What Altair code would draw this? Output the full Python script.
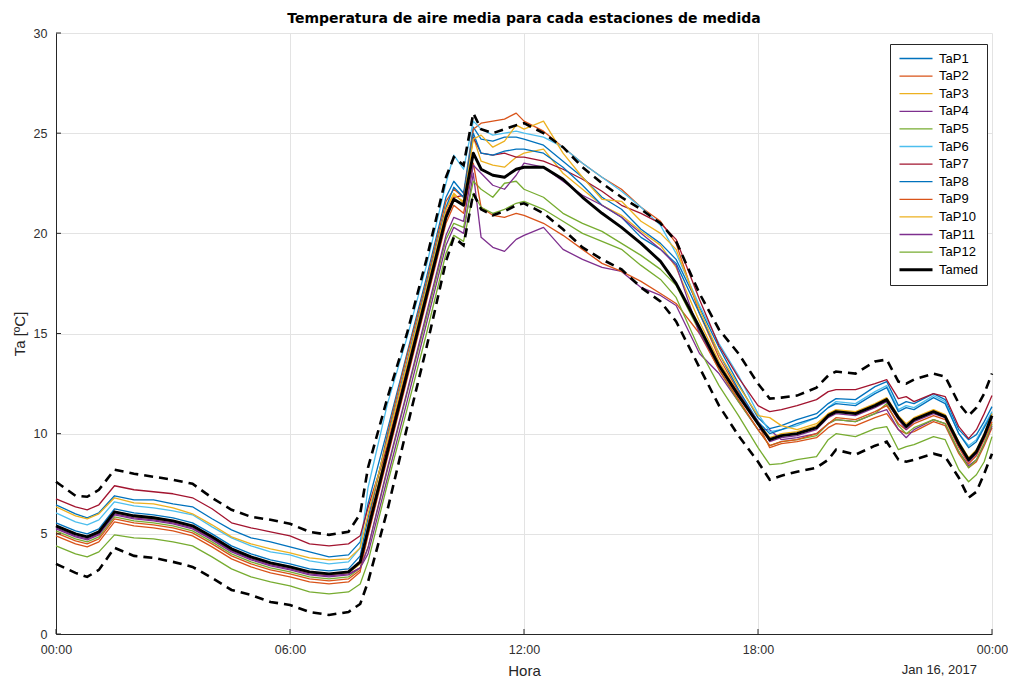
import altair as alt
import pandas as pd

FONT = "Liberation Sans"
TITLE_FONT = "DejaVu Sans"

TITLE = "Temperatura de aire media para cada estaciones de medida"
X_TITLE = "Hora"
Y_TITLE = "Ta [ºC]"
DATE_LABEL = "Jan 16, 2017"
X_TICKS = [0, 6, 12, 18, 24]
Y_TICKS = [0, 5, 10, 15, 20, 25, 30]

# hours since 00:00 (Jan 15, 2017)
T = [0, 0.5, 0.8, 1.1, 1.5, 2, 2.5, 3, 3.5, 4, 4.5, 5, 5.5, 6, 6.5, 7, 7.5, 7.8,
     8.0, 8.5, 9.0, 9.5, 10.0, 10.2, 10.45, 10.7,
     10.9, 11.2, 11.5, 11.8, 12.0, 12.5, 13.0, 13.5, 14.0, 14.5, 15.0, 15.5, 15.9,
     16.5, 17.0, 17.5, 18.0,
     18.3, 18.6, 19.0, 19.5, 19.8, 20.0, 20.5, 21.0, 21.3, 21.6, 21.8, 22.0, 22.5,
     22.8, 23.15, 23.4, 23.6, 23.8, 24.0]

TaP1 = [6.45, 6.0, 5.8, 6.05, 6.9, 6.7, 6.7, 6.5, 6.35, 5.75, 5.2, 4.8, 4.6, 4.35, 4.1, 3.85, 3.95, 4.6,
        6.5, 10.2, 14.0, 17.8, 21.8, 22.6, 22.0, 25.3,
        24.7, 24.6, 24.8, 24.8, 24.7, 24.4, 23.6, 22.8, 21.8, 21.2, 20.2, 19.5, 18.7,
        16.3, 14.3, 12.5, 10.8,
        10.25, 10.4, 10.7, 11.0, 11.5, 11.75, 11.7, 12.35, 12.6, 11.4, 11.6, 11.5, 12.0, 11.7, 10.2, 9.7, 9.95, 10.6, 11.35]
TaP2 = [4.9, 4.5, 4.35, 4.6, 5.6, 5.4, 5.3, 5.15, 4.9, 4.35, 3.75, 3.35, 3.05, 2.85, 2.6, 2.5, 2.6, 3.1,
        5.5, 10.0, 13.9, 17.6, 21.6, 22.2, 21.8, 25.2,
        25.5, 25.6, 25.7, 26.0, 25.6, 25.1, 24.3, 23.5, 22.8, 22.2, 21.3, 20.6, 19.5,
        16.0, 13.8, 12.1, 10.5,
        9.3, 9.5, 9.6, 9.8, 10.3, 10.5, 10.4, 10.8, 11.0, 10.2, 10.0, 10.1, 10.6, 10.4, 9.0, 8.3, 8.6, 9.4, 10.3]
TaP3 = [5.4, 5.0, 4.85, 5.05, 6.05, 5.85, 5.75, 5.6, 5.35, 4.8, 4.2, 3.8, 3.5, 3.3, 3.05, 2.95, 3.05, 3.5,
        5.3, 9.5, 13.4, 17.2, 21.2, 22.0, 21.5, 24.8,
        23.6, 23.4, 23.3, 23.8, 24.0, 24.2, 23.0, 22.2, 21.4, 20.9, 20.1, 19.4, 18.3,
        15.6, 13.6, 12.0, 10.6,
        9.8, 10.0, 10.1, 10.4, 11.0, 11.15, 11.05, 11.45, 11.75, 10.85, 10.4, 10.75, 11.15, 10.9, 9.5, 8.7, 9.1, 9.9, 10.9]
TaP4 = [5.3, 4.9, 4.75, 5.0, 6.0, 5.8, 5.7, 5.55, 5.3, 4.75, 4.15, 3.75, 3.45, 3.25, 3.0, 2.9, 3.0, 3.3,
        4.0, 7.8, 11.6, 15.5, 19.4, 20.3, 20.0, 23.0,
        19.8, 19.3, 19.1, 19.7, 19.9, 20.3, 19.2, 18.7, 18.3, 18.1, 17.3, 16.9, 16.4,
        14.0, 13.0, 11.6, 10.2,
        10.2, 9.7, 9.8, 10.0, 10.5, 10.7, 10.6, 11.0, 11.2, 10.2, 9.8, 10.2, 10.7, 10.5, 9.1, 8.4, 8.7, 9.5, 10.4]
TaP5 = [5.15, 4.75, 4.6, 4.85, 5.85, 5.65, 5.55, 5.4, 5.15, 4.6, 4.0, 3.6, 3.3, 3.1, 2.85, 2.75, 2.85, 3.3,
        4.3, 8.2, 12.0, 15.8, 19.7, 20.5, 20.3, 22.6,
        22.2, 21.8, 22.5, 22.6, 22.2, 21.8, 21.0, 20.5, 20.1, 19.5, 18.9, 18.2, 17.4,
        15.1, 13.2, 11.6, 10.2,
        9.4, 9.6, 9.7, 9.9, 10.5, 10.7, 10.6, 11.0, 11.5, 10.4, 10.0, 10.3, 10.7, 10.5, 9.1, 8.3, 8.7, 9.5, 10.5]
TaP6 = [6.05, 5.6, 5.45, 5.7, 6.6, 6.4, 6.3, 6.15, 5.95, 5.35, 4.8, 4.4, 4.1, 3.95, 3.65, 3.5, 3.6, 4.3,
        7.3, 11.5, 14.8, 18.4, 22.5, 23.9, 23.2, 25.6,
        25.2, 24.9, 25.0, 25.1, 25.0, 24.8, 24.3, 23.5, 22.8, 22.1, 21.3, 20.4, 19.0,
        16.4, 14.5, 12.9, 11.0,
        10.1, 10.2, 10.4, 10.8, 11.3, 11.6, 11.5, 12.1, 12.4, 11.2, 11.4, 11.3, 11.9, 11.6, 10.0, 9.4, 9.7, 10.4, 11.1]
TaP7 = [6.75, 6.35, 6.2, 6.45, 7.4, 7.2, 7.1, 7.0, 6.8, 6.25, 5.55, 5.3, 5.1, 4.9, 4.5, 4.4, 4.5, 4.9,
        6.3, 9.4, 13.2, 17.0, 21.0, 21.8, 21.9, 24.8,
        24.0, 23.9, 24.0, 23.8, 23.8, 23.6, 23.2, 22.7, 22.1, 21.4, 21.0, 20.5, 19.7,
        16.7, 14.4, 12.8, 11.4,
        11.1, 11.2, 11.4, 11.7, 12.1, 12.2, 12.2, 12.5, 12.7, 11.75, 11.85, 11.6, 12.0, 11.85, 10.35, 9.75, 10.2, 11.0, 11.9]
TaP8 = [5.55, 5.15, 5.0, 5.25, 6.25, 6.05, 5.95, 5.8, 5.55, 5.0, 4.4, 4.0, 3.7, 3.5, 3.25, 3.15, 3.25, 3.9,
        5.8, 9.8, 13.6, 17.4, 21.3, 22.3, 21.8, 25.0,
        24.0, 23.9, 24.1, 24.2, 24.2, 24.0, 23.3, 22.4, 21.4, 20.8, 19.8, 19.2, 18.5,
        16.0, 14.0, 12.2, 10.6,
        10.0, 10.2, 10.5, 10.8, 11.3, 11.5, 11.4, 12.0, 12.3, 11.1, 11.3, 11.2, 11.8, 11.5, 10.0, 9.3, 9.6, 10.3, 11.0]
TaP9 = [5.05, 4.65, 4.5, 4.75, 5.75, 5.55, 5.45, 5.3, 5.05, 4.5, 3.9, 3.5, 3.2, 3.0, 2.75, 2.65, 2.75, 3.2,
        4.9, 8.8, 12.7, 16.6, 20.5, 21.4, 21.0, 23.5,
        21.3, 20.9, 20.8, 21.0, 20.9, 20.5, 19.9, 19.2, 18.5, 18.1, 17.6, 17.0, 16.5,
        15.0, 13.2, 11.7, 10.2,
        9.4, 9.6, 9.7, 10.0, 10.5, 10.8, 10.7, 11.1, 11.4, 10.5, 10.2, 10.5, 10.9, 10.7, 9.3, 8.5, 8.9, 9.7, 10.6]
TaP10 = [6.35, 5.9, 5.75, 6.0, 6.8, 6.55, 6.5, 6.3, 6.0, 5.45, 4.85, 4.5, 4.25, 4.05, 3.8, 3.7, 3.75, 4.3,
         6.0, 9.7, 13.5, 17.3, 21.2, 21.9, 21.6, 24.7,
         24.9, 24.3, 24.6, 25.4, 25.2, 25.6, 24.0, 22.8, 21.7, 21.6, 20.6, 20.0, 19.2,
         16.2, 14.0, 12.4, 10.9,
         10.8, 10.4, 10.2, 10.5, 11.0, 11.2, 11.1, 11.5, 11.8, 10.9, 10.5, 10.8, 11.2, 10.95, 9.6, 8.8, 9.2, 10.0, 11.0]
TaP11 = [5.25, 4.85, 4.7, 4.95, 5.95, 5.75, 5.65, 5.5, 5.25, 4.7, 4.1, 3.7, 3.4, 3.2, 2.95, 2.85, 2.95, 3.3,
         4.3, 8.3, 12.1, 16.0, 19.9, 20.8, 20.6, 23.4,
         23.0, 22.4, 22.2, 22.9, 23.5, 23.3, 22.6, 21.9, 21.4, 20.8, 20.0, 19.2, 18.4,
         15.0, 13.4, 12.0, 10.6,
         9.6, 9.8, 9.9, 10.2, 10.8, 11.0, 10.9, 11.3, 11.6, 10.7, 10.2, 10.6, 11.0, 10.8, 9.4, 8.6, 9.0, 9.8, 10.8]
TaP12 = [4.4, 4.0, 3.85, 4.1, 4.95, 4.8, 4.75, 4.6, 4.4, 3.85, 3.25, 2.85, 2.6, 2.4, 2.1, 2.0, 2.1, 2.5,
         3.6, 7.5, 11.2, 15.0, 19.0, 19.9, 19.6, 22.0,
         21.3, 21.0, 21.2, 21.5, 21.6, 21.2, 20.6, 20.0, 19.6, 19.2, 18.4, 17.7, 16.8,
         14.2, 12.4, 10.9, 9.3,
         8.45, 8.5, 8.7, 8.85, 9.7, 10.0, 9.85, 10.25, 10.35, 9.2, 9.35, 9.45, 9.85, 9.7, 8.2, 7.6, 7.95, 8.6, 9.85]
Tamed = [5.4, 5.0, 4.85, 5.1, 6.1, 5.9, 5.8, 5.65, 5.4, 4.85, 4.25, 3.85, 3.55, 3.35, 3.1, 3.0, 3.1, 3.6,
         5.2, 9.1, 13.0, 16.9, 20.8, 21.7, 21.4, 24.0,
         23.2, 22.9, 22.8, 23.2, 23.3, 23.3, 22.7, 21.8, 21.0, 20.3, 19.5, 18.6, 17.5,
         15.3, 13.4, 11.9, 10.5,
         9.7, 9.9, 10.0, 10.3, 10.9, 11.1, 11.0, 11.4, 11.7, 10.8, 10.35, 10.7, 11.1, 10.85, 9.5, 8.7, 9.1, 9.9, 10.9]
# dashed envelope (upper / lower)
Tsup = [7.6, 6.9, 6.85, 7.2, 8.2, 8.0, 7.85, 7.7, 7.5, 6.8, 6.2, 5.85, 5.7, 5.5, 5.1, 4.95, 5.1, 6.0,
        8.3, 11.8, 15.0, 18.7, 22.8, 23.8, 23.4, 26.0,
        25.2, 25.0, 25.2, 25.4, 25.5, 25.0, 24.3, 23.3, 22.5, 21.8, 21.2, 20.5, 19.6,
        17.0, 15.2, 14.0, 12.5,
        11.75, 11.8, 11.9, 12.3, 12.9, 13.1, 13.0, 13.6, 13.7, 12.6, 12.5, 12.7, 13.0, 12.85, 11.5, 10.9, 11.3, 12.0, 13.0]
Tinf = [3.5, 3.05, 2.85, 3.2, 4.3, 3.9, 3.8, 3.6, 3.35, 2.8, 2.2, 1.95, 1.6, 1.45, 1.1, 0.95, 1.1, 1.5,
        2.6, 6.2, 10.3, 14.3, 18.6, 19.8, 19.4, 22.0,
        21.2, 20.9, 21.1, 21.4, 21.5, 21.0, 20.2, 19.3, 18.7, 18.2, 17.3, 16.6, 15.6,
        13.3, 11.4, 9.9, 8.6,
        7.7, 7.9, 8.1, 8.3, 8.7, 9.2, 8.95, 9.4, 9.6, 8.7, 8.6, 8.7, 9.0, 8.85, 7.8, 6.8, 7.1, 8.0, 9.0]

SERIES = ["TaP1", "TaP2", "TaP3", "TaP4", "TaP5", "TaP6", "TaP7",
          "TaP8", "TaP9", "TaP10", "TaP11", "TaP12", "Tamed"]
VALUES = [TaP1, TaP2, TaP3, TaP4, TaP5, TaP6, TaP7, TaP8, TaP9, TaP10, TaP11, TaP12, Tamed]
COLORS = ["#0072BD", "#D95319", "#EDB120", "#7E2F8E", "#77AC30", "#4DBEEE", "#A2142F",
          "#0072BD", "#D95319", "#EDB120", "#7E2F8E", "#77AC30", "#000000"]
WIDTHS = [1.3] * 12 + [2.9]

rows = []
for k, (name, vals) in enumerate(zip(SERIES, VALUES)):
    for t, v in zip(T, vals):
        rows.append({"serie": name, "k": k, "h": t, "ta": v})
df = pd.DataFrame(rows)

brows = []
for name, vals in [("sup", Tsup), ("inf", Tinf)]:
    for t, v in zip(T, vals):
        brows.append({"limite": name, "h": t, "ta": v})
dfb = pd.DataFrame(brows)

x_enc = alt.X("h:Q", scale=alt.Scale(domain=[0, 24], nice=False, zero=False),
              axis=alt.Axis(values=X_TICKS, title=X_TITLE, labelFlush=False,
                            labelExpr="(datum.value % 24 < 10 ? '0' : '') + (datum.value % 24) + ':00'"))
y_enc = alt.Y("ta:Q", scale=alt.Scale(domain=[0, 30], nice=False, zero=False),
              axis=alt.Axis(values=Y_TICKS, title=Y_TITLE, labelFlush=False))

legend_kw = dict(title=None, orient="none", legendX=834, legendY=11, symbolType="stroke",
                 symbolSize=1090, clipHeight=13, rowPadding=3.6, labelFontSize=13,
                 labelFont=FONT, labelColor="black", labelOffset=5, strokeColor="#262626",
                 fillColor="white", padding=8)

lines = alt.Chart(df).mark_line(strokeJoin="round").encode(
    x=x_enc,
    y=y_enc,
    color=alt.Color("serie:N", scale=alt.Scale(domain=SERIES, range=COLORS),
                    sort=SERIES, legend=alt.Legend(**legend_kw)),
    strokeWidth=alt.StrokeWidth("serie:N", scale=alt.Scale(type="ordinal", domain=SERIES, range=WIDTHS),
                                sort=SERIES, legend=alt.Legend(**legend_kw)),
    detail="k:Q",
)

dashed = alt.Chart(dfb).mark_line(color="black", strokeWidth=2.6, strokeDash=[9, 6]).encode(
    x=x_enc, y=y_enc, detail="limite:N"
)

ytk = pd.DataFrame({"ta": Y_TICKS})
xtk = pd.DataFrame({"h": X_TICKS})
yticks = alt.Chart(ytk).mark_rule(color="#262626", strokeWidth=1).encode(
    y=y_enc, x=alt.value(0), x2=alt.value(5))
xticks = alt.Chart(xtk).mark_rule(color="#262626", strokeWidth=1).encode(
    x=x_enc, y=alt.value(601), y2=alt.value(596))

date_df = pd.DataFrame({"h": [24], "ta": [0], "txt": [DATE_LABEL]})
date_txt = alt.Chart(date_df).mark_text(align="right", baseline="middle", dx=-15, dy=36,
                                         fontSize=13, font=FONT, color="#262626").encode(
    x=x_enc, y=y_enc, text="txt:N")

chart = alt.layer(lines, dashed, yticks, xticks, date_txt).properties(
    width=936, height=601,
    autosize=alt.AutoSizeParams(type="none"),
    padding={"left": 48, "top": 25, "right": 16, "bottom": 44},
    title=alt.TitleParams(TITLE, font=TITLE_FONT, fontSize=14, fontWeight="bold", color="black",
                          anchor="middle", offset=1),
).configure_axis(
    grid=True, gridColor="#e3e3e3", gridWidth=1, domainColor="#262626", domainWidth=1,
    ticks=False, labelFont=FONT, labelFontSize=12.5, labelColor="#303030",
    titleFont=FONT, titleFontSize=15, titleFontWeight="normal", titleColor="#262626",
).configure_axisY(labelPadding=9, titlePadding=6).configure_axisX(
    labelPadding=9, titlePadding=8
).configure_view(stroke=None)

chart.save("out.html", embed_options={"renderer": "svg", "actions": False})
